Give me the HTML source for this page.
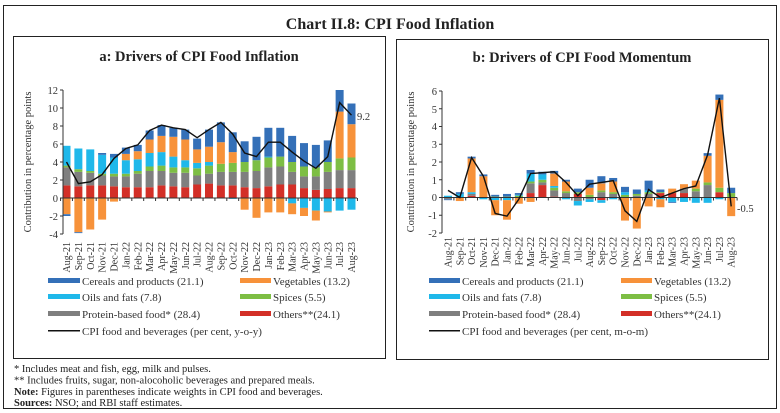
<!DOCTYPE html>
<html><head><meta charset="utf-8"><style>
body{margin:0;background:#fff;}
svg{display:block;font-family:"Liberation Serif",serif;}
</style></head><body>
<svg id="s" width="780" height="413" viewBox="0 0 780 413" xmlns="http://www.w3.org/2000/svg">
<rect x="3.5" y="5.5" width="773" height="403" fill="none" stroke="#222" stroke-width="1"/>
<text x="390" y="29" text-anchor="middle" font-size="16" font-weight="bold" fill="#222">Chart II.8: CPI Food Inflation</text>
<rect x="13.5" y="36.5" width="372" height="322" fill="none" stroke="#222"/>
<rect x="396.5" y="39.5" width="372" height="320" fill="none" stroke="#222"/>
<text x="199" y="61" text-anchor="middle" font-size="14.5" font-weight="bold" fill="#222">a: Drivers of CPI Food Inflation</text>
<text x="582" y="62" text-anchor="middle" font-size="14.5" font-weight="bold" fill="#222">b: Drivers of CPI Food Momentum</text>
<g font-size="10.5" fill="#333" text-anchor="end">
<text x="58" y="94">12</text><text x="58" y="112">10</text><text x="58" y="130">8</text><text x="58" y="148">6</text><text x="58" y="166">4</text><text x="58" y="184">2</text><text x="58" y="202">0</text><text x="58" y="220">-2</text><text x="58" y="238">-4</text>
<text x="437" y="95">6</text><text x="437" y="113">5</text><text x="437" y="130">4</text><text x="437" y="148">3</text><text x="437" y="166">2</text><text x="437" y="184">1</text><text x="437" y="201">0</text><text x="437" y="219">-1</text><text x="437" y="237">-2</text>
</g>
<text transform="translate(31,162) rotate(-90)" text-anchor="middle" font-size="10.5" fill="#333">Contribution in percentage points</text>
<text transform="translate(414,162) rotate(-90)" text-anchor="middle" font-size="10.5" fill="#333">Contribution in percentage points</text>
<g id="bars"></g>
<g font-size="10" fill="#333" text-anchor="end">
<g id="xl"></g>
</g>
<text x="357" y="120" font-size="10.5" fill="#333">9.2</text>
<text x="737" y="212" font-size="10.5" fill="#333">-0.5</text>
<g font-size="11" fill="#333">
<rect x="48" y="278" width="32" height="5" fill="#3470b8"/><text x="82" y="285">Cereals and products (21.1)</text>
<rect x="240" y="278" width="31" height="5" fill="#f7923a"/><text x="273" y="285">Vegetables (13.2)</text>
<rect x="48" y="294" width="32" height="5" fill="#1fb8ea"/><text x="82" y="301">Oils and fats (7.8)</text>
<rect x="240" y="294" width="31" height="5" fill="#7dbe44"/><text x="273" y="301">Spices (5.5)</text>
<rect x="48" y="311" width="32" height="5" fill="#7f7f7f"/><text x="82" y="318">Protein-based food* (28.4)</text>
<rect x="240" y="311" width="31" height="5" fill="#d32f27"/><text x="273" y="318">Others**(24.1)</text>
<rect x="48" y="330" width="32" height="1.5" fill="#111"/><text x="82" y="335">CPI food and beverages (per cent, y-o-y)</text>
<rect x="429" y="278" width="31" height="5" fill="#3470b8"/><text x="462" y="285">Cereals and products (21.1)</text>
<rect x="621" y="278" width="31" height="5" fill="#f7923a"/><text x="654" y="285">Vegetables (13.2)</text>
<rect x="429" y="294" width="31" height="5" fill="#1fb8ea"/><text x="462" y="301">Oils and fats (7.8)</text>
<rect x="621" y="294" width="31" height="5" fill="#7dbe44"/><text x="654" y="301">Spices (5.5)</text>
<rect x="429" y="311" width="31" height="5" fill="#7f7f7f"/><text x="462" y="318">Protein-based food* (28.4)</text>
<rect x="621" y="311" width="31" height="5" fill="#d32f27"/><text x="654" y="318">Others**(24.1)</text>
<rect x="429" y="330" width="31" height="1.5" fill="#111"/><text x="462" y="335">CPI food and beverages (per cent, m-o-m)</text>
</g>
<g font-size="10.5" fill="#222">
<text x="14" y="372">* Includes meat and fish, egg, milk and pulses.</text>
<text x="14" y="383.5">** Includes fruits, sugar, non-alocoholic beverages and prepared meals.</text>
<text x="14" y="395"><tspan font-weight="bold">Note:</tspan> Figures in parentheses indicate weights in CPI food and beverages.</text>
<text x="14" y="406"><tspan font-weight="bold">Sources:</tspan> NSO; and RBI staff estimates.</text>
</g>
</svg>
<script>
var C=["#d32f27","#7f7f7f","#7dbe44","#1fb8ea","#f7923a","#3470b8"];
var M=["Aug-21","Sep-21","Oct-21","Nov-21","Dec-21","Jan-22","Feb-22","Mar-22","Apr-22","May-22","Jun-22","Jul-22","Aug-22","Sep-22","Oct-22","Nov-22","Dec-22","Jan-23","Feb-23","Mar-23","Apr-23","May-23","Jun-23","Jul-23","Aug-23"];
var A=[[1.4,2,.2,2.2,-1.8,-.2],[1.3,1.6,.3,2.3,-3.8,-.1],[1.4,1.4,.2,2.4,-3.5,0],[1.4,1.1,.2,2.1,-2.4,.2],[1.3,1.1,.3,1.8,-.4,.4],[1.2,1.2,.3,1.5,.7,.7],[1.2,1.5,.3,1.3,.9,.7],[1.2,1.8,.5,1.5,1.5,1],[1.4,1.6,.6,1.5,1.8,1.2],[1.3,1.5,.6,1.2,2.2,1],[1.2,1.6,.6,.8,2.3,1.1],[1.5,1,.8,.6,1.5,1.2],[1.6,1.1,.9,.4,1.7,1.9],[1.4,1.5,.9,0,2.4,2.2],[1.4,1.5,1,-.1,1.2,2.2],[1.2,1.7,1.1,0,-1.3,2.3],[1.1,1.9,1.2,0,-2.2,2.6],[1.3,2.1,1.1,.1,-1.6,3.2],[1.5,2,1.1,0,-1.6,3.2],[1.5,1.4,1.1,-.6,-1.2,2.9],[1.1,1.3,1.1,-1.1,-.9,2.6],[.9,1.5,1,-1.4,-1.1,2.5],[1,1.9,1.1,-1.5,-.1,2.4],[1.1,2,1.3,-1.4,5.2,2.4],[1.1,2,1.4,-1.3,3.7,2.3]];
var AL=[4,1.6,1.8,2.6,4.4,5.5,5.9,7.5,8.1,7.8,7.6,6.7,7.6,8.4,7.1,5,4.6,6.2,6.2,5.1,4.1,3.3,4.6,10.6,9.2];
var B=[[0,-.1,0,.1,0,-.05],[0,0,0,.2,-.2,.1],[.1,.1,0,.1,1.9,.1],[0,0,0,-.1,1.2,.1],[0,0,.05,-.15,-.85,.1],[0,0,.05,-.15,-1.1,.15],[0,0,.1,.05,-.35,.1],[.25,.55,.1,.45,-.25,.2],[.7,.15,.15,.3,0,.15],[.05,.35,.15,.1,.7,.15],[0,.25,.1,-.1,.55,.1],[.2,-.2,.1,-.25,0,.2],[0,-.1,.15,-.15,.4,.45],[-.15,.3,.1,-.15,.4,.4],[0,.2,.1,-.1,.6,.2],[0,0,.15,.15,-1.3,.3],[0,.1,.1,0,-1.75,.25],[0,.2,.1,.1,-.5,.55],[.25,0,.05,-.1,-.45,.15],[.25,0,0,-.25,.25,-.05],[.25,.25,0,-.25,.25,0],[0,.35,.15,-.3,.45,0],[0,.7,.15,-.3,1.5,.15],[.3,0,.25,-.1,4.95,.3],[0,0,.25,0,-1.05,.3]];
var BL=[.4,0,2.25,1.2,-.9,-1.05,-.1,1.35,1.4,1.45,.85,.1,.75,.85,.95,-.75,-1.35,.45,0,.25,.5,.65,2.4,5.6,-.5];
var NS="http://www.w3.org/2000/svg",g=document.getElementById("bars"),xl=document.getElementById("xl");
function el(t,a,p){var e=document.createElementNS(NS,t);for(var k in a)e.setAttribute(k,a[k]);(p||g).appendChild(e);return e;}
function panel(D,L,x0,step,y0,sc,axL,axR,ymax,ymin,lblTop){
 D.forEach(function(d,i){var cx=x0+i*step,p=0,n=0;
  d.forEach(function(v,j){if(v>0){el("rect",{x:cx-4,y:y0-(p+v)*sc,width:8,height:v*sc,fill:C[j]});p+=v;}
   else if(v<0){el("rect",{x:cx-4,y:y0-n*sc,width:8,height:-v*sc,fill:C[j]});n+=v;}});
  var t=el("text",{transform:"translate("+(cx+3.5)+","+lblTop+") rotate(-90)"},xl);t.textContent=M[i];
 });
 el("line",{x1:axL,y1:y0,x2:axR,y2:y0,stroke:"#333","stroke-width":1});
 el("line",{x1:axL,y1:y0-ymax*sc,x2:axL,y2:y0-ymin*sc,stroke:"#333","stroke-width":1});
 for(var v=ymin;v<=ymax;v+=(ymax>6?2:1))el("line",{x1:axL-3,y1:y0-v*sc,x2:axL,y2:y0-v*sc,stroke:"#333"});
 for(var i=0;i<=25;i++){var tx=x0-step/2+i*step;el("line",{x1:tx,y1:y0,x2:tx,y2:y0+3,stroke:"#333"});}
 el("polyline",{points:L.map(function(v,i){return (x0+i*step)+","+(y0-v*sc)}).join(" "),fill:"none",stroke:"#111","stroke-width":1.4});
}
panel(A,AL,66.5,11.875,198,9,63,357,12,-4,242);
panel(B,BL,448,11.8,197.5,17.75,442,737,6,-2,237);
</script>
</body></html>
